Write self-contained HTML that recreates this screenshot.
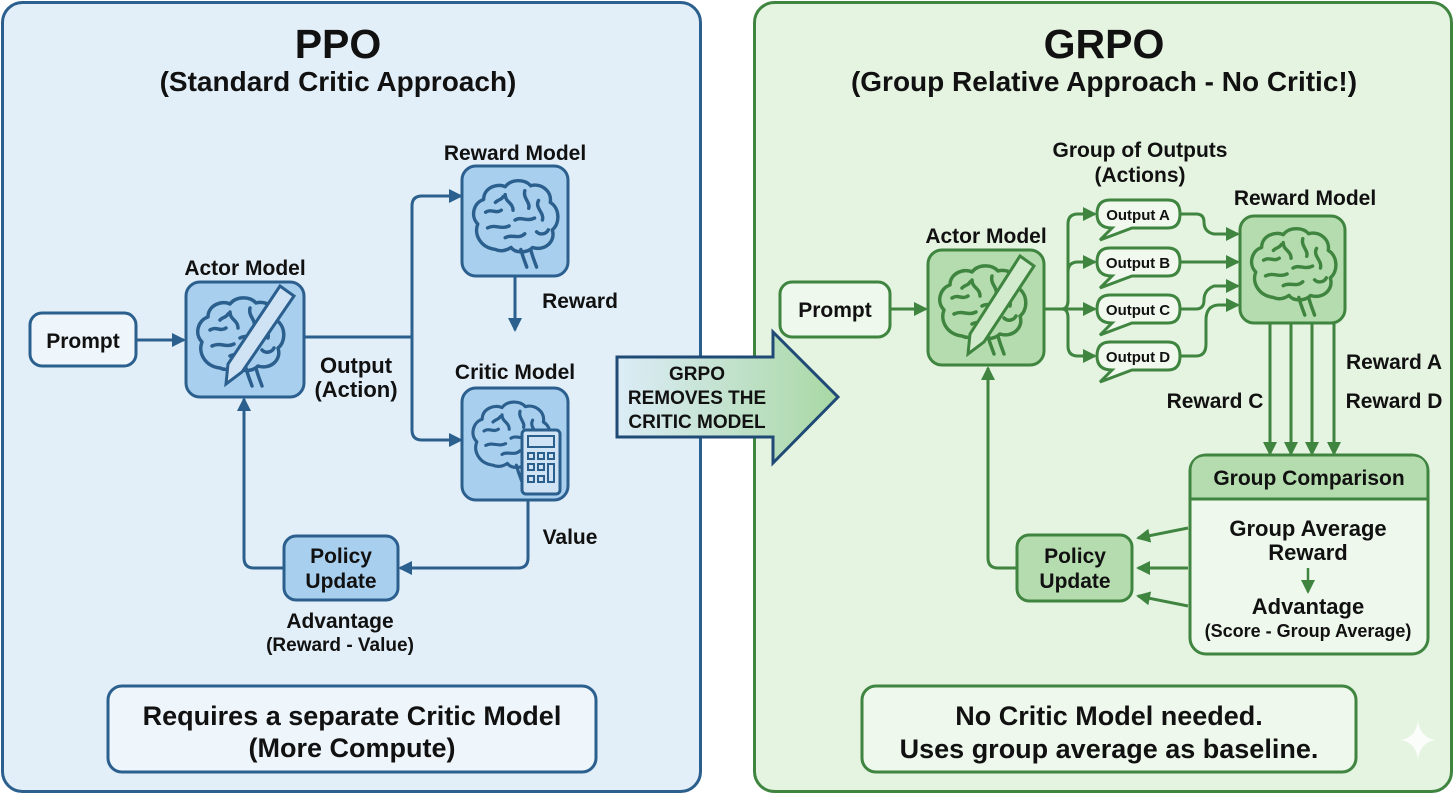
<!DOCTYPE html>
<html><head><meta charset="utf-8"><style>
html,body{margin:0;padding:0;background:#fff}
svg{display:block}
text{font-family:"Liberation Sans",sans-serif;font-weight:bold;fill:#111;text-anchor:middle}
</style></head><body>
<svg width="1456" height="794" viewBox="0 0 1456 794" xmlns="http://www.w3.org/2000/svg">
<defs>
<marker id="ab" markerWidth="14" markerHeight="14" refX="12" refY="7" orient="auto" markerUnits="userSpaceOnUse"><path d="M0,0 L14,7 L0,14 Z" fill="#2b5f8e"/></marker>
<marker id="ag" markerWidth="14" markerHeight="14" refX="12" refY="7" orient="auto" markerUnits="userSpaceOnUse"><path d="M0,0 L14,7 L0,14 Z" fill="#3f8540"/></marker>
<linearGradient id="arr" x1="0" x2="1" y1="0" y2="0"><stop offset="0" stop-color="#dcecf7"/><stop offset="1" stop-color="#a9d8a4"/></linearGradient>
<symbol id="brain" viewBox="0 0 100 100">
<g fill="none" stroke-width="3.5" stroke-linecap="round" stroke-linejoin="round">
<path d="M30,78 C14,76 8,62 12,52 C4,44 8,30 18,27 C18,15 32,10 40,14 C46,6 60,6 66,13 C76,10 88,18 86,30 C96,36 96,52 88,58 C92,70 80,80 68,76 C62,82 50,82 46,76 C40,80 34,80 30,78 Z"/>
<path d="M56,78 C58,86 60,90 62,96 M66,78 C68,86 70,90 72,96"/>
<path d="M20,40 C26,36 30,42 36,38 M40,22 C40,30 48,30 48,38 M60,18 C58,26 66,30 64,36 M74,28 C70,36 80,40 78,48 M22,56 C30,52 36,58 44,54 M50,48 C56,44 62,50 70,46 M40,66 C46,62 54,68 60,62 M72,60 C76,64 82,62 84,58 M30,30 C34,26 36,28 38,24"/>
</g></symbol>
</defs>

<rect x="2.5" y="2.5" width="698" height="789" rx="20" fill="#e3eff8" stroke="#2b5f8e" stroke-width="3"/>
<rect x="754.5" y="2.5" width="697" height="789" rx="20" fill="#e5f3e1" stroke="#3f8540" stroke-width="3"/>

<text x="338" y="58" font-size="41">PPO</text>
<text x="338" y="91" font-size="28">(Standard Critic Approach)</text>

<rect x="30" y="313" width="106" height="53" rx="12" fill="#eef5fb" stroke="#2b5f8e" stroke-width="3"/>
<text x="83" y="348" font-size="21">Prompt</text>
<line x1="137" y1="340" x2="184" y2="340" stroke="#2b5f8e" stroke-width="3" marker-end="url(#ab)"/>

<text x="245" y="275" font-size="21">Actor Model</text>
<rect x="186" y="282" width="118" height="115" rx="14" fill="#a9cfee" stroke="#2b5f8e" stroke-width="3"/>
<use href="#brain" x="190" y="290" width="100" height="100" stroke="#2b5f8e"/>
<path d="M280,286 L294,296 L242,372 L226,384 L228,364 Z" fill="#cfe3f5" stroke="#2b5f8e" stroke-width="3"/>

<path d="M305,337 L412,337 M412,337 L412,206 Q412,196 422,196 L460,196 M412,337 L412,430 Q412,440 422,440 L460,440" fill="none" stroke="#2b5f8e" stroke-width="3"/>
<line x1="440" y1="196" x2="461" y2="196" stroke="#2b5f8e" stroke-width="3" marker-end="url(#ab)"/>
<line x1="440" y1="440" x2="461" y2="440" stroke="#2b5f8e" stroke-width="3" marker-end="url(#ab)"/>
<text x="356" y="373" font-size="22">Output</text>
<text x="356" y="397" font-size="22">(Action)</text>

<text x="515" y="160" font-size="21">Reward Model</text>
<rect x="462" y="166" width="106" height="110" rx="14" fill="#a9cfee" stroke="#2b5f8e" stroke-width="3"/>
<use href="#brain" x="466" y="172" width="98" height="100" stroke="#2b5f8e"/>
<line x1="515" y1="277" x2="515" y2="330" stroke="#2b5f8e" stroke-width="3" marker-end="url(#ab)"/>
<text x="580" y="308" font-size="21">Reward</text>

<text x="515" y="379" font-size="21">Critic Model</text>
<rect x="462" y="388" width="106" height="112" rx="14" fill="#a9cfee" stroke="#2b5f8e" stroke-width="3"/>
<use href="#brain" x="466" y="394" width="90" height="92" stroke="#2b5f8e"/>
<rect x="522" y="430" width="38" height="64" rx="4" fill="#cfe3f5" stroke="#2b5f8e" stroke-width="3"/>
<rect x="528" y="436" width="26" height="11" fill="none" stroke="#2b5f8e" stroke-width="2"/>
<g fill="none" stroke="#2b5f8e" stroke-width="2"><rect x="528" y="453" width="6" height="6"/><rect x="538" y="453" width="6" height="6"/><rect x="548" y="453" width="6" height="6"/><rect x="528" y="464" width="6" height="6"/><rect x="538" y="464" width="6" height="6"/><rect x="548" y="464" width="6" height="18"/><rect x="528" y="476" width="6" height="6"/><rect x="538" y="476" width="6" height="6"/></g>

<path d="M528,501 L528,558 Q528,568 518,568 L402,568" fill="none" stroke="#2b5f8e" stroke-width="3"/>
<line x1="420" y1="568" x2="400" y2="568" stroke="#2b5f8e" stroke-width="3" marker-end="url(#ab)"/>
<text x="570" y="544" font-size="21">Value</text>

<rect x="284" y="536" width="114" height="64" rx="12" fill="#a9cfee" stroke="#2b5f8e" stroke-width="3"/>
<text x="341" y="563" font-size="21">Policy</text>
<text x="341" y="588" font-size="21">Update</text>
<path d="M284,568 L254,568 Q244,568 244,558 L244,405" fill="none" stroke="#2b5f8e" stroke-width="3"/>
<line x1="244" y1="420" x2="244" y2="399" stroke="#2b5f8e" stroke-width="3" marker-end="url(#ab)"/>
<text x="340" y="628" font-size="21">Advantage</text>
<text x="340" y="651" font-size="19">(Reward - Value)</text>

<rect x="108" y="686" width="488" height="86" rx="14" fill="#eef5fb" stroke="#2b5f8e" stroke-width="3"/>
<text x="352" y="725" font-size="27">Requires a separate Critic Model</text>
<text x="352" y="757" font-size="27">(More Compute)</text>

<path d="M617,357 L773,357 L773,332 L838,397 L773,463 L773,437 L617,437 Z" fill="url(#arr)" stroke="#1f4a75" stroke-width="3"/>
<text x="697" y="380" font-size="19">GRPO</text>
<text x="697" y="404" font-size="19">REMOVES THE</text>
<text x="697" y="428" font-size="19">CRITIC MODEL</text>

<text x="1104" y="58" font-size="41">GRPO</text>
<text x="1104" y="91" font-size="28">(Group Relative Approach - No Critic!)</text>

<rect x="780" y="282" width="110" height="55" rx="12" fill="#eef8ec" stroke="#3f8540" stroke-width="3"/>
<text x="835" y="317" font-size="21">Prompt</text>
<line x1="891" y1="309" x2="926" y2="309" stroke="#3f8540" stroke-width="3" marker-end="url(#ag)"/>

<text x="986" y="243" font-size="21">Actor Model</text>
<rect x="928" y="250" width="116" height="115" rx="14" fill="#b5dcae" stroke="#3f8540" stroke-width="3"/>
<use href="#brain" x="932" y="258" width="100" height="100" stroke="#3f8540"/>
<path d="M1020,256 L1034,266 L984,342 L968,354 L970,334 Z" fill="#d2ebcd" stroke="#3f8540" stroke-width="3"/>

<text x="1140" y="157" font-size="21">Group of Outputs</text>
<text x="1140" y="182" font-size="21">(Actions)</text>

<g fill="none" stroke="#3f8540" stroke-width="3">
<path d="M1044,309 L1068,309"/>
<path d="M1062,309 Q1068,309 1068,300 L1068,224 Q1068,214 1078,214 L1094,214"/>
<path d="M1062,309 Q1068,309 1068,300 L1068,272 Q1068,262 1078,262 L1094,262"/>
<path d="M1068,309 L1094,309"/>
<path d="M1062,309 Q1068,309 1068,318 L1068,346 Q1068,356 1078,356 L1094,356"/>
<path d="M1180,214 L1196,214 Q1204,214 1204,222 Q1204,232 1214,234 L1236,234"/>
<path d="M1180,262 L1236,262"/>
<path d="M1180,309 L1196,309 Q1204,309 1204,300 Q1204,290 1214,286 L1236,286"/>
<path d="M1180,356 L1196,356 Q1206,356 1206,344 L1206,320 Q1206,306 1218,305 L1236,305"/>
</g>
<g stroke="#3f8540" stroke-width="3">
<line x1="1082" y1="214" x2="1095" y2="214" marker-end="url(#ag)"/>
<line x1="1082" y1="262" x2="1095" y2="262" marker-end="url(#ag)"/>
<line x1="1082" y1="309" x2="1095" y2="309" marker-end="url(#ag)"/>
<line x1="1082" y1="356" x2="1095" y2="356" marker-end="url(#ag)"/>
<line x1="1222" y1="234" x2="1238" y2="234" marker-end="url(#ag)"/>
<line x1="1222" y1="262" x2="1238" y2="262" marker-end="url(#ag)"/>
<line x1="1222" y1="286" x2="1238" y2="286" marker-end="url(#ag)"/>
<line x1="1222" y1="305" x2="1238" y2="305" marker-end="url(#ag)"/>
</g>
<g fill="#f1f9ef" stroke="#3f8540" stroke-width="3">
<path d="M1110,200 L1168,200 Q1180,200 1180,214 Q1180,228 1168,228 L1132,228 L1100,240 L1112,228 Q1097,228 1097,214 Q1097,200 1110,200 Z"/>
<path d="M1110,248 L1168,248 Q1180,248 1180,262 Q1180,276 1168,276 L1132,276 L1100,288 L1112,276 Q1097,276 1097,262 Q1097,248 1110,248 Z"/>
<path d="M1110,295 L1168,295 Q1180,295 1180,309 Q1180,323 1168,323 L1132,323 L1100,335 L1112,323 Q1097,323 1097,309 Q1097,295 1110,295 Z"/>
<path d="M1110,342 L1168,342 Q1180,342 1180,356 Q1180,370 1168,370 L1132,370 L1100,382 L1112,370 Q1097,370 1097,356 Q1097,342 1110,342 Z"/>
</g>
<text x="1138" y="220" font-size="15">Output A</text>
<text x="1138" y="268" font-size="15">Output B</text>
<text x="1138" y="315" font-size="15">Output C</text>
<text x="1138" y="362" font-size="15">Output D</text>

<text x="1305" y="205" font-size="21">Reward Model</text>
<rect x="1240" y="216" width="105" height="107" rx="14" fill="#b5dcae" stroke="#3f8540" stroke-width="3"/>
<use href="#brain" x="1244" y="220" width="98" height="100" stroke="#3f8540"/>

<g stroke="#3f8540" stroke-width="3">
<line x1="1270" y1="324" x2="1270" y2="454" marker-end="url(#ag)"/>
<line x1="1291" y1="324" x2="1291" y2="454" marker-end="url(#ag)"/>
<line x1="1312" y1="324" x2="1312" y2="454" marker-end="url(#ag)"/>
<line x1="1334" y1="324" x2="1334" y2="454" marker-end="url(#ag)"/>
</g>
<text x="1394" y="369" font-size="21">Reward A</text>
<text x="1394" y="408" font-size="21">Reward D</text>
<text x="1215" y="408" font-size="21">Reward C</text>

<rect x="1190" y="455" width="238" height="199" rx="16" fill="#eef8ec" stroke="#3f8540" stroke-width="3"/>
<path d="M1191.5,499 L1191.5,471 Q1191.5,456.5 1206,456.5 L1412,456.5 Q1426.5,456.5 1426.5,471 L1426.5,499 Z" fill="#b5dcae"/>
<line x1="1190" y1="499" x2="1428" y2="499" stroke="#3f8540" stroke-width="3"/>
<text x="1309" y="485" font-size="21">Group Comparison</text>
<text x="1308" y="536" font-size="22">Group Average</text>
<text x="1308" y="560" font-size="22">Reward</text>
<line x1="1308" y1="568" x2="1308" y2="592" stroke="#3f8540" stroke-width="2.5" marker-end="url(#ag)"/>
<text x="1308" y="614" font-size="22">Advantage</text>
<text x="1308" y="637" font-size="18">(Score - Group Average)</text>

<rect x="1017" y="535" width="115" height="66" rx="12" fill="#b5dcae" stroke="#3f8540" stroke-width="3"/>
<text x="1075" y="563" font-size="21">Policy</text>
<text x="1075" y="588" font-size="21">Update</text>
<g stroke="#3f8540" stroke-width="3">
<line x1="1188" y1="528" x2="1138" y2="538" marker-end="url(#ag)"/>
<line x1="1188" y1="568" x2="1138" y2="568" marker-end="url(#ag)"/>
<line x1="1188" y1="606" x2="1138" y2="596" marker-end="url(#ag)"/>
</g>
<path d="M1017,568 L998,568 Q988,568 988,558 L988,372" fill="none" stroke="#3f8540" stroke-width="3"/>
<line x1="988" y1="385" x2="988" y2="368" stroke="#3f8540" stroke-width="3" marker-end="url(#ag)"/>

<rect x="862" y="686" width="494" height="86" rx="14" fill="#eef8ec" stroke="#3f8540" stroke-width="3"/>
<text x="1109" y="725" font-size="27">No Critic Model needed.</text>
<text x="1109" y="758" font-size="27">Uses group average as baseline.</text>
<path d="M1418,720 Q1420,738 1436,740 Q1420,742 1418,760 Q1416,742 1400,740 Q1416,738 1418,720 Z" fill="#fbfdfa"/>
</svg>
</body></html>
